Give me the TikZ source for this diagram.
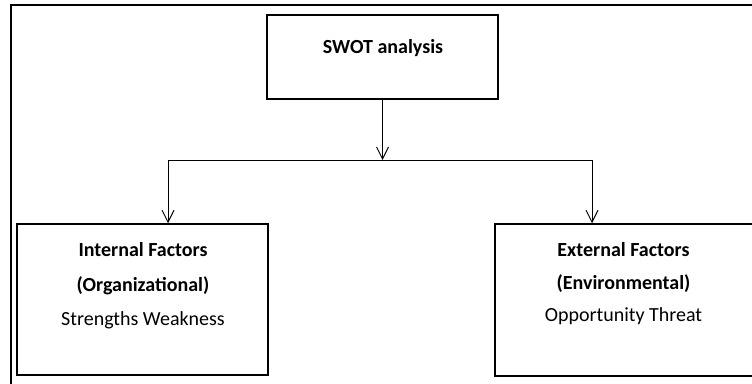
\documentclass[tikz,border=0pt]{standalone}
\usepackage{fontspec}
\setmainfont{Carlito}
\usetikzlibrary{arrows.meta}
\begin{document}
\begin{tikzpicture}[x=1pt,y=-1pt,
  framebox/.style={draw, line width=2.2pt},
  boxstyle/.style={draw, line width=1.5pt, rectangle, inner sep=0pt},
  txt/.style={font=\fontsize{20}{24}\selectfont, anchor=base, inner sep=0pt},
  btxt/.style={txt, font=\fontsize{20}{24}\selectfont\bfseries},
  conn/.style={line width=1pt},
  arr/.style={conn, -{Straight Barb[length=12pt,width=12pt,line width=1pt]}}]
\useasboundingbox (0,0) rectangle (752,383);
\clip (0,0) rectangle (752,383);
% outer frame (open to right and bottom)
\draw[framebox] (11,400) -- (11,5) -- (770,5);
% boxes
\node[boxstyle, minimum width=231pt, minimum height=84pt] (swot) at (382.5,57) {};
\node[btxt] (swottxt) at (383,53.5) {SWOT analysis};
\node[boxstyle, minimum width=251pt, minimum height=151pt] (internal) at (142.5,299.5) {};
\node[btxt] (il1) at (143,256.5) {Internal Factors};
\node[btxt] (il2) at (143,291.5) {(Organizational)};
\node[txt]  (il3) at (143,325.5) {Strengths Weakness};
\node[boxstyle, minimum width=270pt, minimum height=152pt] (external) at (630,300) {};
\node[btxt] (el1) at (623.5,256.5) {External Factors};
\node[btxt] (el2) at (623.5,289.5) {(Environmental)};
\node[txt]  (el3) at (623.5,321.5) {Opportunity Threat};
% connectors
\coordinate (jl) at (168,160);
\coordinate (jr) at (592,160);
\draw[arr] (swot.south) -- (swot.south |- jl);
\draw[conn] (jl) -- (jr);
\draw[arr] (jl) -- (jl |- internal.north);
\draw[arr] (jr) -- (jr |- external.north);
\end{tikzpicture}
\end{document}
